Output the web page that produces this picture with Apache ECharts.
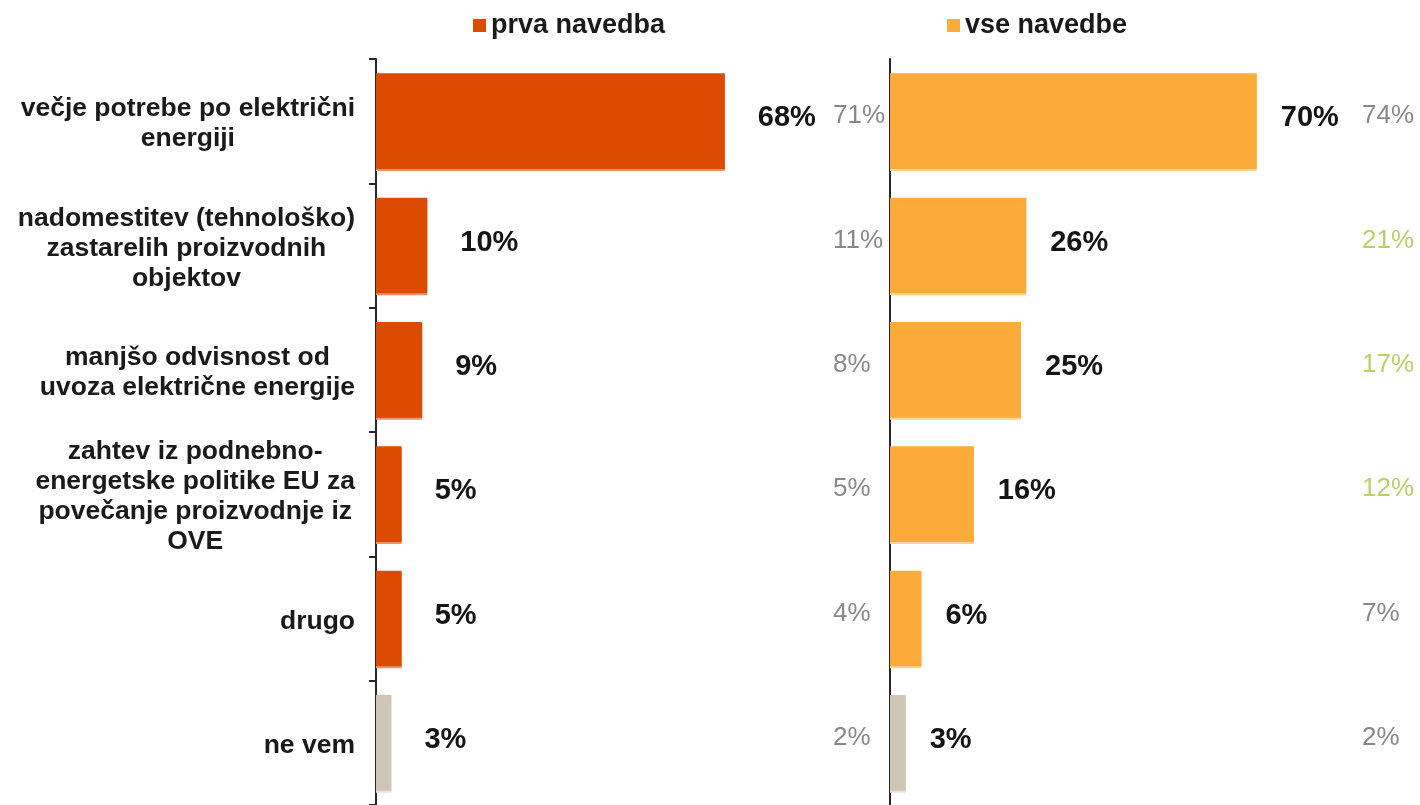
<!DOCTYPE html>
<html>
<head>
<meta charset="utf-8">
<script src="https://cdn.jsdelivr.net/npm/echarts@6/dist/echarts.min.js"></script>
<style>
  html, body { margin: 0; padding: 0; background: #ffffff; }
  #chart { width: 1420px; height: 805px; }
</style>
</head>
<body>
<div id="chart"></div>
<script>
// Razlogi za gradnjo novih proizvodnih objektov
const kategorije = [
  'večje potrebe po električni\nenergiji',
  'nadomestitev (tehnološko)\nzastarelih proizvodnih\nobjektov',
  'manjšo odvisnost od\nuvoza električne energije',
  'zahtev iz podnebno-\nenergetske politike EU za\npovečanje proizvodnje iz\nOVE',
  'drugo',
  'ne vem'
];
const serije = ['prva navedba', 'vse navedbe'];

// Trenutni deleži (%)
const prvaNavedba = [68, 10, 9, 5, 5, 3];
const vseNavedbe = [70, 26, 25, 16, 6, 3];

// Primerjalni deleži (%)
const prvaNavedbaPrej = [71, 11, 8, 5, 4, 2];
const vseNavedbePrej = [74, 21, 17, 12, 7, 2];
// Primerjalne vrednosti, ki so poudarjene z zeleno
const vseNavedbePoudarek = [false, true, true, true, false, false];

const nevtralnaKategorija = 'ne vem';

const FONT = "'Liberation Sans', Arial, Helvetica, sans-serif";
const BARVA_PRVA = '#DC4C00';
const BARVA_PRVA_SVETLA = '#F0936A';
const BARVA_VSE = '#FBAB3A';
const BARVA_VSE_SVETLA = '#FDD495';
const BARVA_NEVTRALNA = '#CEC5B4';
const BARVA_NEVTRALNA_SVETLA = '#E8E2D8';
const SIVA = '#888888';
const ZELENA = '#B7D06A';

function stolpci(vrednosti) {
  return vrednosti.map((v, i) => kategorije[i] === nevtralnaKategorija
    ? { value: v, itemStyle: { color: BARVA_NEVTRALNA, shadowColor: BARVA_NEVTRALNA_SVETLA } }
    : { value: v });
}

const oznakaVrednosti = (distance) => ({
  show: true,
  position: 'right',
  distance: distance,
  offset: [0, -3],
  formatter: '{c}%',
  fontFamily: FONT,
  fontSize: 29,
  fontWeight: 'bold',
  color: '#141414',
  textShadowColor: 'rgba(0,0,0,0.25)',
  textShadowOffsetX: 1,
  textShadowOffsetY: 1
});

const legenda = (ime, left) => ({
  data: [ime],
  left: left,
  top: 12,
  padding: 0,
  icon: 'rect',
  itemWidth: 13,
  itemHeight: 13,
  itemGap: 5,
  selectedMode: false,
  textStyle: { fontFamily: FONT, fontSize: 27, fontWeight: 'bold', color: '#1a1a1a' }
});

const primerjava = (margin, fn) => ({
  type: 'category',
  position: 'right',
  inverse: true,
  data: kategorije,
  axisLine: { show: false },
  axisTick: { show: false },
  axisLabel: {
    margin: margin,
    padding: [0, 0, 10, 0],
    formatter: fn,
    rich: {
      s: { fontFamily: FONT, fontSize: 26, color: SIVA },
      g: { fontFamily: FONT, fontSize: 26, color: ZELENA }
    }
  }
});

const chart = echarts.init(document.getElementById('chart'), null, { renderer: 'canvas' });

chart.setOption({
  backgroundColor: '#ffffff',
  animation: false,
  textStyle: { fontFamily: FONT },
  legend: [legenda(serije[0], 473), legenda(serije[1], 947)],
  grid: [
    { left: 376, top: 59, width: 513, height: 751 },
    { left: 890, top: 59, width: 524, height: 751 }
  ],
  xAxis: [
    { gridIndex: 0, type: 'value', min: 0, max: 100, show: false },
    { gridIndex: 1, type: 'value', min: 0, max: 100, show: false }
  ],
  yAxis: [
    {
      gridIndex: 0,
      type: 'category',
      inverse: true,
      data: kategorije,
      axisLine: { lineStyle: { color: '#262626', width: 2 } },
      axisTick: { show: true, length: 7, lineStyle: { color: '#262626', width: 2 } },
      axisLabel: {
        margin: 21,
        align: 'right',
        padding: [6, 0, 0, 0],
        formatter: (v) => '{c|' + v + '}',
        rich: {
          c: { align: 'center', fontFamily: FONT, fontSize: 26.5, fontWeight: 'bold', lineHeight: 30, color: '#1a1a1a' }
        }
      }
    },
    Object.assign({ gridIndex: 0 }, primerjava(-56, (v, i) => '{s|' + prvaNavedbaPrej[i] + '%}')),
    {
      gridIndex: 1,
      type: 'category',
      inverse: true,
      data: kategorije,
      axisLine: { lineStyle: { color: '#262626', width: 2 } },
      axisTick: { show: false },
      axisLabel: { show: false }
    },
    Object.assign({ gridIndex: 1 }, primerjava(-52, (v, i) =>
      (vseNavedbePoudarek[i] ? '{g|' : '{s|') + vseNavedbePrej[i] + '%}'))
  ],
  series: [
    {
      name: serije[0],
      type: 'bar',
      xAxisIndex: 0,
      yAxisIndex: 0,
      barCategoryGap: '23%',
      itemStyle: { color: BARVA_PRVA, shadowColor: BARVA_PRVA_SVETLA, shadowOffsetY: 2, shadowBlur: 0 },
      label: oznakaVrednosti(33),
      data: stolpci(prvaNavedba)
    },
    {
      name: serije[1],
      type: 'bar',
      xAxisIndex: 1,
      yAxisIndex: 2,
      barCategoryGap: '23%',
      itemStyle: { color: BARVA_VSE, shadowColor: BARVA_VSE_SVETLA, shadowOffsetY: 2, shadowBlur: 0 },
      label: oznakaVrednosti(24),
      data: stolpci(vseNavedbe)
    }
  ]
});
</script>
</body>
</html>
